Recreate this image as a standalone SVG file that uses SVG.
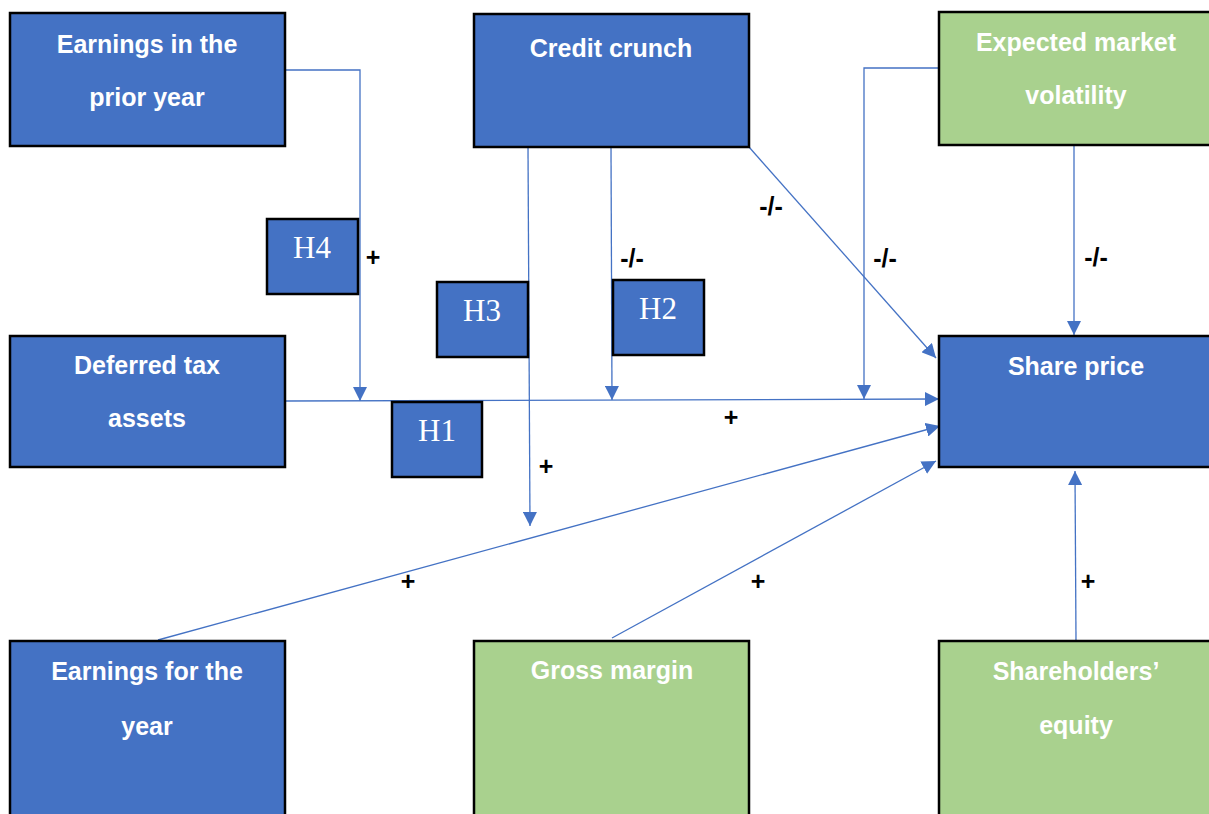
<svg xmlns="http://www.w3.org/2000/svg" width="1209" height="814" viewBox="0 0 1209 814">
  <style>
    .blue { fill: #4472C4; stroke: #000; stroke-width: 2.5; }
    .green { fill: #A9D18E; stroke: #000; stroke-width: 2.5; }
    .lbl { font-family: "Liberation Sans", Arial, sans-serif; font-weight: bold; font-size: 25px; fill: #fff; text-anchor: middle; }
    .hyp { font-family: "Liberation Serif", "Times New Roman", serif; font-size: 31px; fill: #fff; text-anchor: middle; }
    .sign { font-family: "Liberation Sans", Arial, sans-serif; font-weight: bold; font-size: 25px; fill: #000; text-anchor: middle; }
    .conn { fill: none; stroke: #4472C4; stroke-width: 1.3; }
  </style>
  <defs>
    <marker id="arrow" markerUnits="userSpaceOnUse" markerWidth="14" markerHeight="14" viewBox="0 0 14 14" refX="14" refY="7" orient="auto">
      <path d="M0,0 L14,7 L0,14 Z" fill="#4472C4"/>
    </marker>
  </defs>

  <rect width="1209" height="814" fill="#fff"/>

  <!-- connectors -->
  <g id="connectors">
    <path class="conn" d="M285,70 H360 V401" marker-end="url(#arrow)"/>
    <path class="conn" d="M285,401 L939,399" marker-end="url(#arrow)"/>
    <path class="conn" d="M528,147 L530,526" marker-end="url(#arrow)"/>
    <path class="conn" d="M611,147 L612,400" marker-end="url(#arrow)"/>
    <path class="conn" d="M749,147 L936,358" marker-end="url(#arrow)"/>
    <path class="conn" d="M939,68 H864 V399" marker-end="url(#arrow)"/>
    <path class="conn" d="M1074,145 V335" marker-end="url(#arrow)"/>
    <path class="conn" d="M158,640 L940,426" marker-end="url(#arrow)"/>
    <path class="conn" d="M612,638 L936,461" marker-end="url(#arrow)"/>
    <path class="conn" d="M1076,641 L1075,471" marker-end="url(#arrow)"/>
  </g>

  <!-- connector signs -->
  <g id="signs">
    <text class="sign" x="373" y="266">+</text>
    <text class="sign" x="632" y="267">-/-</text>
    <text class="sign" x="771" y="215">-/-</text>
    <text class="sign" x="885" y="267">-/-</text>
    <text class="sign" x="1096" y="266">-/-</text>
    <text class="sign" x="731" y="426">+</text>
    <text class="sign" x="546" y="475">+</text>
    <text class="sign" x="408" y="590">+</text>
    <text class="sign" x="758" y="590">+</text>
    <text class="sign" x="1088" y="590">+</text>
  </g>

  <g id="earnings-prior">
    <rect class="blue" x="10" y="13" width="275" height="133"/>
    <text class="lbl" x="147" y="53">Earnings in the</text>
    <text class="lbl" x="147" y="106">prior year</text>
  </g>
  <g id="credit-crunch">
    <rect class="blue" x="474" y="14" width="275" height="133"/>
    <text class="lbl" x="611" y="57">Credit crunch</text>
  </g>
  <g id="market-volatility">
    <rect class="green" x="939" y="12" width="272" height="133"/>
    <text class="lbl" x="1076" y="51">Expected market</text>
    <text class="lbl" x="1076" y="104">volatility</text>
  </g>
  <g id="deferred-tax">
    <rect class="blue" x="10" y="336" width="275" height="131"/>
    <text class="lbl" x="147" y="374">Deferred tax</text>
    <text class="lbl" x="147" y="427">assets</text>
  </g>
  <g id="share-price">
    <rect class="blue" x="939" y="336" width="272" height="131"/>
    <text class="lbl" x="1076" y="375">Share price</text>
  </g>
  <g id="earnings-year">
    <rect class="blue" x="10" y="641" width="275" height="180"/>
    <text class="lbl" x="147" y="680">Earnings for the</text>
    <text class="lbl" x="147" y="735">year</text>
  </g>
  <g id="gross-margin">
    <rect class="green" x="474" y="641" width="275" height="180"/>
    <text class="lbl" x="612" y="679">Gross margin</text>
  </g>
  <g id="shareholders-equity">
    <rect class="green" x="939" y="641" width="272" height="180"/>
    <text class="lbl" x="1076" y="680">Shareholders’</text>
    <text class="lbl" x="1076" y="734">equity</text>
  </g>

  <g id="h4">
    <rect class="blue" x="267" y="219" width="91" height="75"/>
    <text class="hyp" x="312" y="258">H4</text>
  </g>
  <g id="h3">
    <rect class="blue" x="437" y="282" width="91" height="75"/>
    <text class="hyp" x="482" y="321">H3</text>
  </g>
  <g id="h2">
    <rect class="blue" x="613" y="280" width="91" height="75"/>
    <text class="hyp" x="658" y="319">H2</text>
  </g>
  <g id="h1">
    <rect class="blue" x="392" y="402" width="90" height="75"/>
    <text class="hyp" x="437" y="441">H1</text>
  </g>
</svg>
